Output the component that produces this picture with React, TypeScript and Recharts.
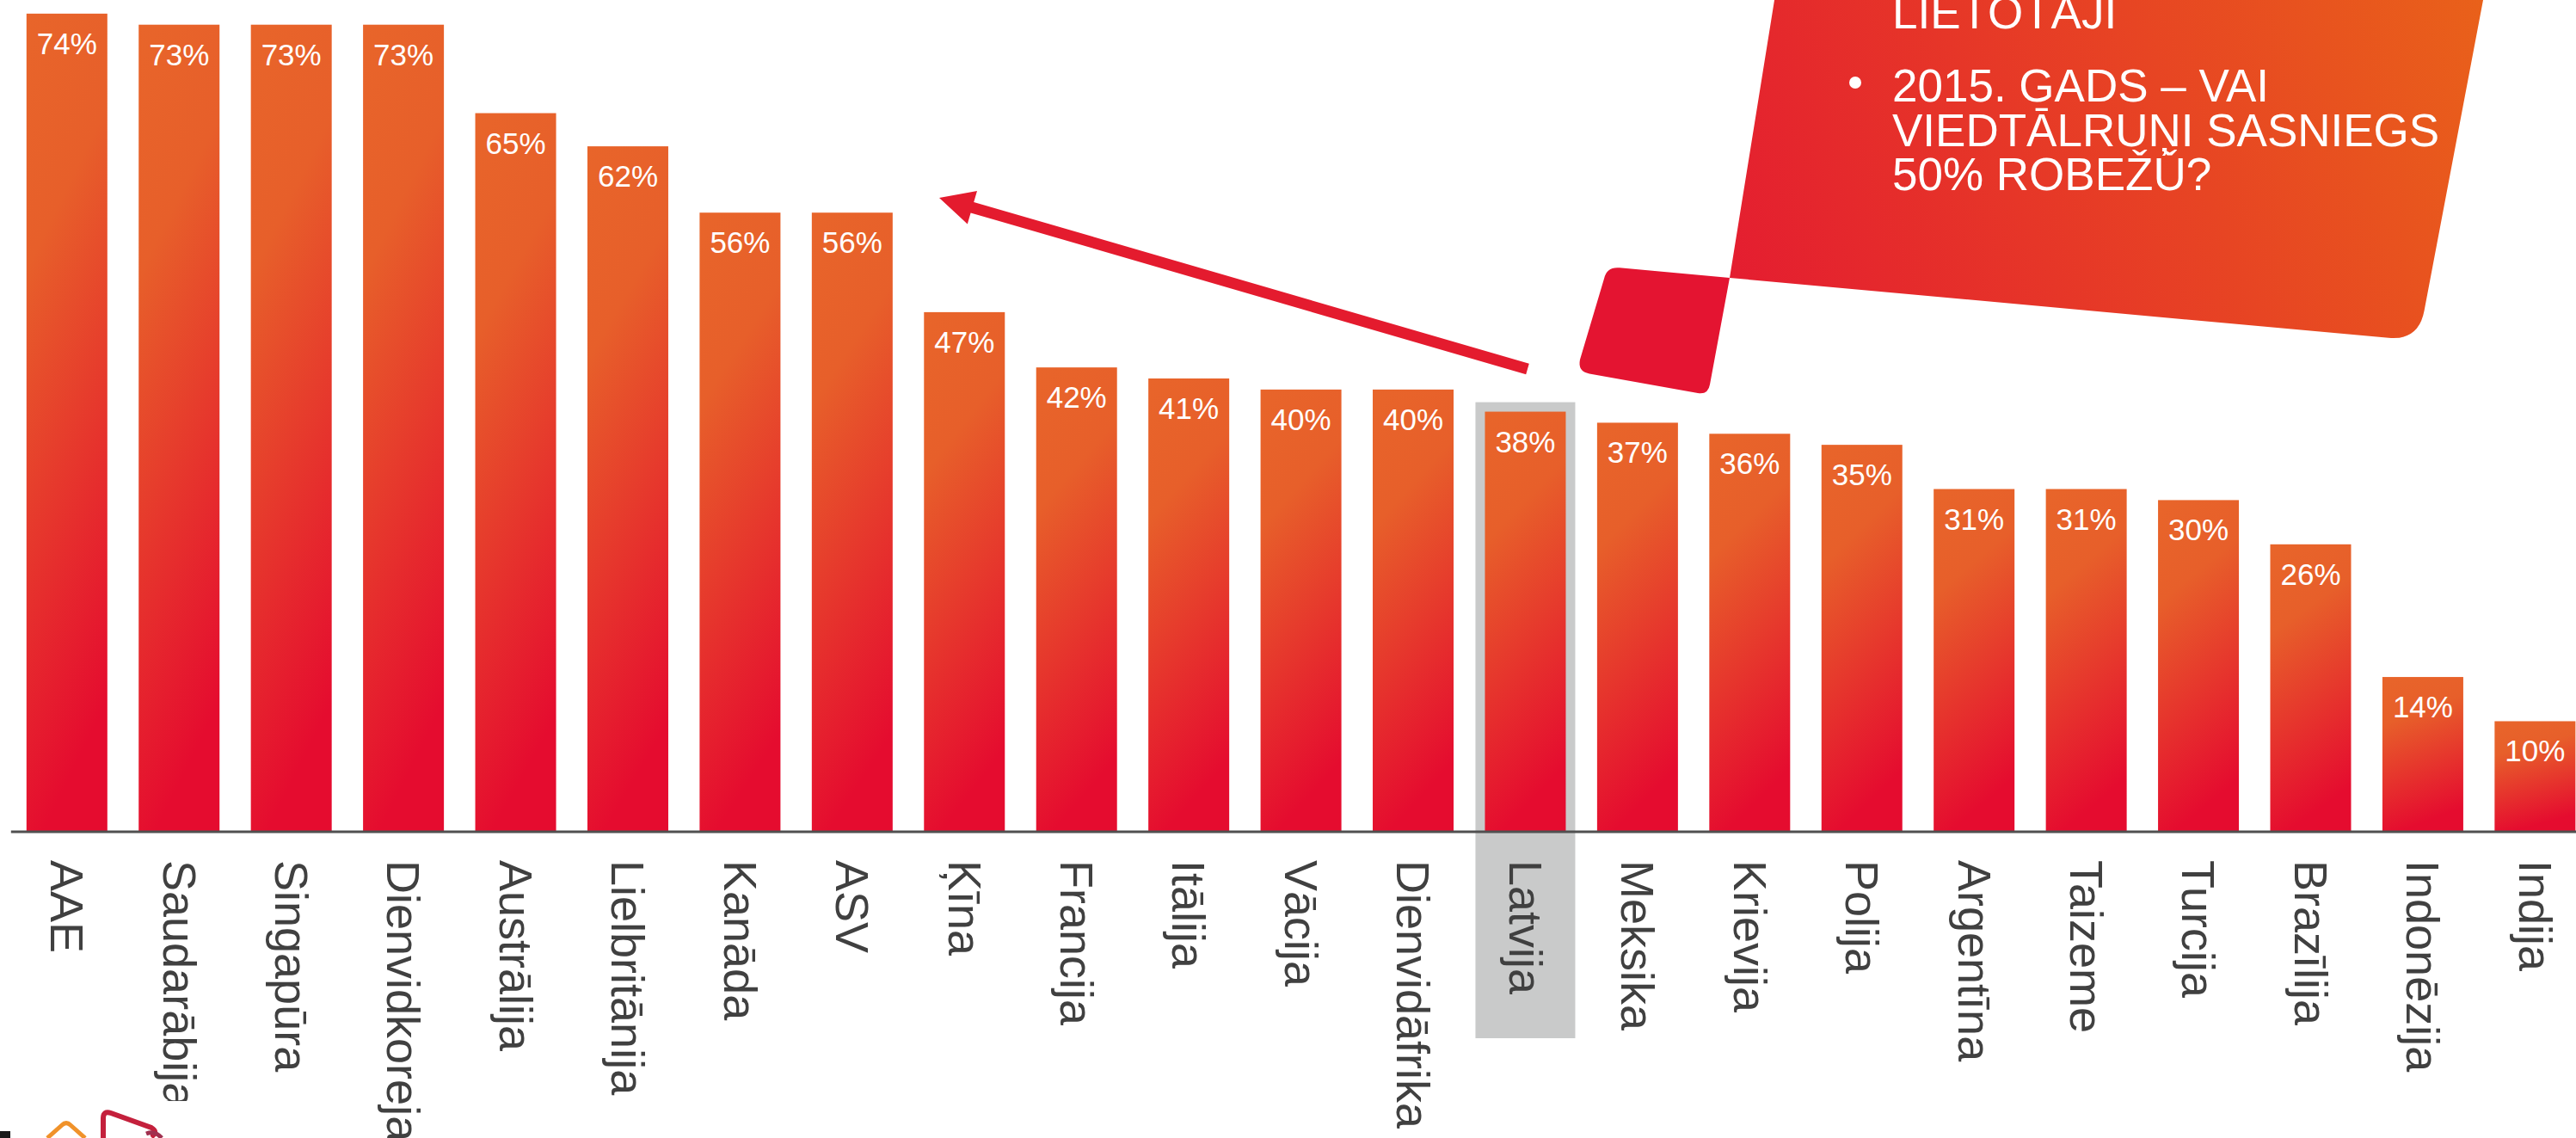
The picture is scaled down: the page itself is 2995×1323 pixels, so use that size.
import React from 'react';
import { BarChart, Bar, XAxis, YAxis, LabelList } from 'recharts';

const countries = [
  'AAE', 'Saudarābija', 'Singapūra', 'Dienvidkoreja', 'Austrālija', 'Lielbritānija',
  'Kanāda', 'ASV', 'Ķīna', 'Francija', 'Itālija', 'Vācija', 'Dienvidāfrika', 'Latvija',
  'Meksika', 'Krievija', 'Polija', 'Argentīna', 'Taizeme', 'Turcija', 'Brazīlija',
  'Indonēzija', 'Indija',
];
const shares = [74, 73, 73, 73, 65, 62, 56, 56, 47, 42, 41, 40, 40, 38, 37, 36, 35, 31, 31, 30, 26, 14, 10];
const highlighted = 'Latvija';
const calloutLines = ['LIETOTĀJI', '2015. GADS – VAI', 'VIEDTĀLRUŅI SASNIEGS', '50% ROBEŽǓ?'];

const data = countries.map((c, i) => ({ country: c, value: shares[i] }));

const FONT = '"Liberation Sans", Arial, Helvetica, sans-serif';

function Tick(props: any) {
  const { x, y, payload } = props;
  return (
    <g transform={`translate(${x},${y}) rotate(90)`}>
      <text x={33} y={0} dy="0.35em" textAnchor="start" fontSize={54} fill="#404040" fontFamily={FONT}>
        {payload.value}
      </text>
    </g>
  );
}

function BarShape(props: any) {
  const { x, y, width, height, payload } = props;
  const isHi = payload && payload.country === highlighted;
  return (
    <g>
      {isHi && (
        <rect x={x - 11} y={y - 11} width={width + 22} height={height + 11 + 240} fill="#C9CACA" />
      )}
      <rect x={x} y={y} width={width} height={height} fill="url(#barGrad)" />
    </g>
  );
}

function ValueLabel(props: any) {
  const { x, y, width, value } = props;
  return (
    <text
      x={Number(x) + Number(width) / 2}
      y={Number(y) + 47}
      textAnchor="middle"
      fontSize={35}
      fill="#ffffff"
      fontFamily={FONT}
    >
      {value}%
    </text>
  );
}

function arrowPoints() {
  const T = [1776, 429];
  const P = [1092, 230];
  const dx = P[0] - T[0];
  const dy = P[1] - T[1];
  const L = Math.hypot(dx, dy);
  const u = [dx / L, dy / L];
  const n = [-u[1], u[0]];
  const headLen = 40;
  const hh = 20;
  const hs = 6.5;
  const B = [P[0] - u[0] * headLen, P[1] - u[1] * headLen];
  const pts = [
    [T[0] + n[0] * hs, T[1] + n[1] * hs],
    [B[0] + n[0] * hs, B[1] + n[1] * hs],
    [B[0] + n[0] * hh, B[1] + n[1] * hh],
    P,
    [B[0] - n[0] * hh, B[1] - n[1] * hh],
    [B[0] - n[0] * hs, B[1] - n[1] * hs],
    [T[0] - n[0] * hs, T[1] - n[1] * hs],
  ];
  return pts.map((p) => `${p[0].toFixed(1)},${p[1].toFixed(1)}`).join(' ');
}

function Overlay() {
  const panel =
    'M 2072.7 -60 L 2011 323 L 2777 392.8 Q 2812 396 2818.5 361.6 L 2898.4 -60 Z';
  const quad =
    'M 2011 323 L 1883 311.3 Q 1868 309.9 1865 324 L 1837 418 Q 1834 432 1848 434.4 L 1974 457 Q 1986 459 1988 447 Z';
  return (
    <svg
      width={2995}
      height={1323}
      style={{ position: 'absolute', left: 0, top: 0, pointerEvents: 'none' }}
    >
      <defs>
        <linearGradient id="panelGrad" gradientUnits="userSpaceOnUse" x1={1990} y1={380} x2={2890} y2={0}>
          <stop offset="0" stopColor="#E41A31" />
          <stop offset="1" stopColor="#E9611A" />
        </linearGradient>
      </defs>
      <polygon points={arrowPoints()} fill="#E41B2E" />
      <path d={panel} fill="url(#panelGrad)" />
      <path d={quad} fill="#E41431" />
      <g fontFamily={FONT} fontSize={53} fill="#ffffff">
        <text x={2200} y={33}>{calloutLines[0]}</text>
        <circle cx={2157} cy={96} r={7} fill="#ffffff" />
        <text x={2200} y={118}>{calloutLines[1]}</text>
        <text x={2200} y={170}>{calloutLines[2]}</text>
        <text x={2200} y={221}>{calloutLines[3]}</text>
      </g>
      {/* logo fragment */}
      <rect x={0} y={1280} width={240} height={43} fill="#ffffff" />
      <rect x={0} y={1315} width={12} height={8} fill="#1a1a1a" />
      <path d="M 55 1323 L 72 1308 Q 77 1303 82 1308 L 99 1323" stroke="#F0922A" strokeWidth={5} fill="none" />
      <path
        d="M 120 1323 L 120 1300 Q 120 1291 129 1294 L 176 1311 Q 183 1315 178 1320"
        stroke="#C4203C"
        strokeWidth={6}
        fill="none"
        strokeLinecap="round"
      />
      <path d="M 170 1318 Q 180 1314 188 1323" stroke="#A0304F" strokeWidth={5} fill="none" />
    </svg>
  );
}

export default function App() {
  return (
    <div
      style={{
        position: 'absolute',
        left: 0,
        top: 0,
        width: 2995,
        height: 1323,
        overflow: 'hidden',
        background: '#ffffff',
        fontFamily: FONT,
      }}
    >
      <svg width={0} height={0} style={{ position: 'absolute' }}>
        <defs>
          <linearGradient id="barGrad" x1="0" y1="0" x2="0.2" y2="1">
            <stop offset="0" stopColor="#E8652A" />
            <stop offset="0.3" stopColor="#E75F2A" />
            <stop offset="1" stopColor="#E50C2F" />
          </linearGradient>
        </defs>
      </svg>
      <BarChart
        width={3020}
        height={1323}
        data={data}
        margin={{ top: 3, right: 7.2, left: 12.8, bottom: 56 }}
        barCategoryGap={0}
      >
        <YAxis hide type="number" domain={[0, 75]} />
        <Bar dataKey="value" barSize={94} shape={BarShape} isAnimationActive={false}>
          <LabelList dataKey="value" content={ValueLabel} />
        </Bar>
        <XAxis
          dataKey="country"
          interval={0}
          height={300}
          tickLine={false}
          tickSize={0}
          tickMargin={0}
          axisLine={{ stroke: '#505050', strokeWidth: 3 }}
          tick={<Tick />}
        />
      </BarChart>
      <Overlay />
    </div>
  );
}
